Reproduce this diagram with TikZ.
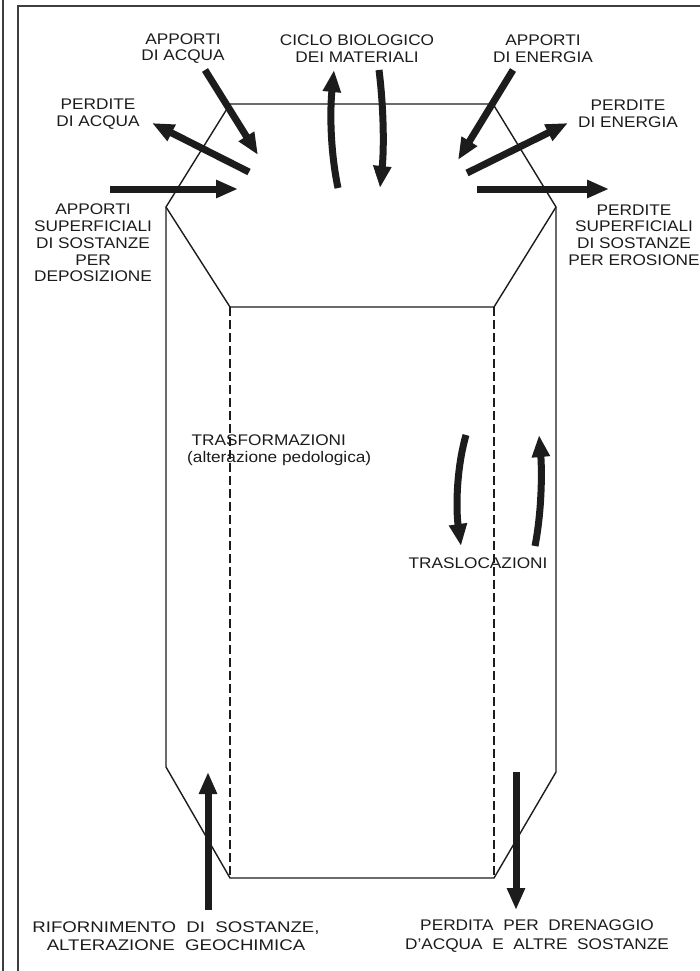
\documentclass[tikz,border=0pt]{standalone}
\usepackage{fontspec}
\setmainfont{Liberation Sans}[FakeStretch=1.12]
\newfontfamily\widesans{Liberation Sans}[FakeStretch=1.21]
\usetikzlibrary{arrows.meta}
\definecolor{ink}{HTML}{1C1C1C}
\tikzset{
  outline/.style={draw=ink, line width=1.4pt, line join=miter},
  hidden/.style={draw=ink, line width=1.4pt, dash pattern=on 9pt off 4pt},
  frameline/.style={draw=ink!85, line width=1.5pt},
  flow/.style={draw=ink, line width=7pt, -{Triangle[length=22pt,width=17pt]}},
  lbl/.style={font=\fontsize{15.4}{16.8}\selectfont, text=ink, align=center, inner sep=0pt},
  lblwide/.style={font=\fontsize{15.4}{18.5}\selectfont, text=ink, align=center, inner sep=0pt}
}
\begin{document}
\begin{tikzpicture}[x=1pt, y=-1pt]
\useasboundingbox (0,0) rectangle (700,971);
\fill[white] (0,0) rectangle (700,971);

% page frame
\draw[frameline] (3,0) -- (3,971);
\draw[frameline] (18,971) -- (18,6) -- (700,6);

% prism corners
\coordinate (T1) at (230,104);
\coordinate (T2) at (493,104);
\coordinate (R1) at (556,207);
\coordinate (R2) at (556,772);
\coordinate (B2) at (494,878);
\coordinate (B1) at (230,878);
\coordinate (L2) at (166,767);
\coordinate (L1) at (166,207);
\coordinate (I1) at (230,307);
\coordinate (I2) at (494,307);

% prism outline
\draw[outline] (T1) -- (T2) -- (R1) -- (R2) -- (B2) -- (B1) -- (L2) -- (L1) -- cycle;
\draw[outline] (L1) -- (I1) -- (I2) -- (R1);
\draw[hidden] (I1) -- (B1);
\draw[hidden] (I2) -- (B2);

% arrow end points
\coordinate (aqIn0) at (205,70);   \coordinate (aqIn1) at (258,155);
\coordinate (aqOut0) at (249,172); \coordinate (aqOut1) at (152,123);
\coordinate (depo0) at (110,189);  \coordinate (depo1) at (238,189);
\coordinate (enIn0) at (513,70);   \coordinate (enIn1) at (458,160);
\coordinate (enOut0) at (467,173); \coordinate (enOut1) at (568,123);
\coordinate (eros0) at (477,189);  \coordinate (eros1) at (609,189);
\coordinate (rif0) at (208,910);   \coordinate (rif1) at (208,772);
\coordinate (dren0) at (516,772);  \coordinate (dren1) at (516,910);
\coordinate (cUp0) at (338,188);   \coordinate (cUp1) at (334,70);
\coordinate (cDn0) at (379,70);    \coordinate (cDn1) at (380,188);
\coordinate (tDn0) at (466,435);   \coordinate (tDn1) at (461,546);
\coordinate (tUp0) at (535,546);   \coordinate (tUp1) at (539,435);

% flows
\draw[flow] (aqIn0) -- (aqIn1);
\draw[flow] (aqOut0) -- (aqOut1);
\draw[flow] (depo0) -- (depo1);
\draw[flow] (enIn0) -- (enIn1);
\draw[flow] (enOut0) -- (enOut1);
\draw[flow] (eros0) -- (eros1);
\draw[flow] (rif0) -- (rif1);
\draw[flow] (dren0) -- (dren1);
\draw[flow] (cUp0) .. controls (330,150) and (330,110) .. (cUp1);
\draw[flow] (cDn0) .. controls (384,110) and (384,150) .. (cDn1);
\draw[flow] (tDn0) .. controls (456,470) and (456,510) .. (tDn1);
\draw[flow] (tUp0) .. controls (542,510) and (542,470) .. (tUp1);

% labels
\node[lbl] (apAcqua) at (183,48.5) {APPORTI\\DI ACQUA};
\node[lbl] (ciclo) at (357,49) {CICLO BIOLOGICO\\DEI MATERIALI};
\node[lbl] (apEnergia) at (543,49) {APPORTI\\DI ENERGIA};
\node[lbl] (peAcqua) at (98,114) {PERDITE\\DI ACQUA};
\node[lbl] (peEnergia) at (628,114) {PERDITE\\DI ENERGIA};
\node[lbl] (apSup) at (93,243) {APPORTI\\SUPERFICIALI\\DI SOSTANZE\\PER\\DEPOSIZIONE};
\node[lbl] (peSup) at (634,235) {PERDITE\\SUPERFICIALI\\DI SOSTANZE\\PER EROSIONE};
\node[lbl, align=left, anchor=west] (trasf) at (187,450) {\hspace{4.5pt}TRASFORMAZIONI\\(alterazione pedologica)};
\node[lbl] (trasl) at (478,563) {TRASLOCAZIONI};
\node[lblwide, font=\widesans\fontsize{15.4}{18.5}\selectfont] (rifor) at (176,936) {RIFORNIMENTO \ DI \ SOSTANZE,\\ALTERAZIONE \ GEOCHIMICA};
\node[lblwide] (drenag) at (537,936) {PERDITA \ PER \ DRENAGGIO\\D'ACQUA \ E \ ALTRE \ SOSTANZE};
\end{tikzpicture}
\end{document}
